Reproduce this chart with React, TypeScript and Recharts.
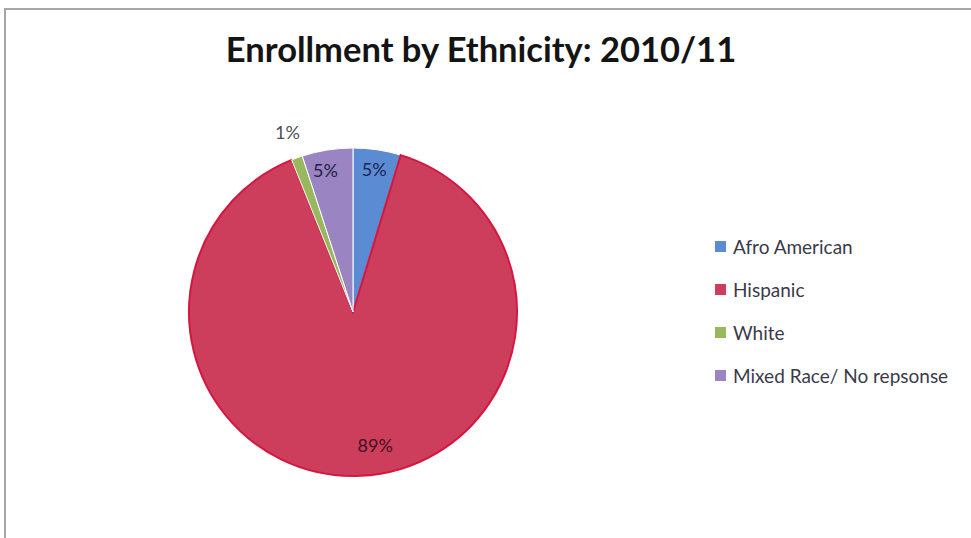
import { PieChart, Pie, Cell } from "recharts"

const groups = ["Afro American", "Hispanic", "White", "Mixed Race/ No repsonse"]
const shares = [4.7, 89.2, 1.1, 5.0]
const colors = ["#5a8bd3", "#cc3e5c", "#98b85e", "#9a85c2"]

const data = groups.map((name, i) => ({ name, value: shares[i] }))

// label placement per slice (fraction of radius, angle nudge)
const labelRadius = [0.88, 0.82, 1.17, 0.88]
const labelNudge = [0, 7, 0, 2]
const labelColor = ["#1a2650", "#44101f", "#4e4e5a", "#221e48"]

const RADIAN = Math.PI / 180
const font = "Lato, 'Open Sans', sans-serif"

const renderLabel = (props: any) => {
  const { cx, cy, midAngle, outerRadius, index, percent } = props
  const r = outerRadius * labelRadius[index]
  const a = (midAngle + labelNudge[index]) * RADIAN
  const x = cx + r * Math.cos(a)
  const y = cy - r * Math.sin(a)
  return (
    <text x={x} y={y} fill={labelColor[index]} fontSize={18} fontFamily={font} textAnchor="middle" dominantBaseline="central">
      {`${Math.round(percent * 100)}%`}
    </text>
  )
}

export default function App() {
  return (
    <div style={{ position: "absolute", left: 0, top: 0, width: 971, height: 538, background: "#fff", overflow: "hidden" }}>
      <div style={{ position: "absolute", left: 4, top: 8, width: 980, height: 540, borderLeft: "2px solid #a4a6aa", borderTop: "2px solid #a4a6aa" }} />
      <PieChart width={971} height={538} style={{ position: "absolute", left: 0, top: 0 }}>
        <text x={481} y={48} textAnchor="middle" dominantBaseline="central" fontFamily={font} fontWeight={700} fontSize={34.5} fill="#141414">
          Enrollment by Ethnicity: 2010/11
        </text>
        <Pie
          data={data}
          dataKey="value"
          nameKey="name"
          cx={348}
          cy={307}
          outerRadius={164}
          startAngle={90}
          endAngle={-270}
          stroke="#fff"
          strokeWidth={1}
          label={renderLabel}
          labelLine={false}
          isAnimationActive={false}
        >
          {data.map((entry, index) => (
            <Cell key={`cell-${index}`} fill={colors[index]} stroke={index === 1 ? "#d4173f" : "#ffffff"} strokeWidth={index === 1 ? 2 : 1} />
          ))}
        </Pie>
      </PieChart>
      <div style={{ position: "absolute", left: 715, top: 225, fontFamily: font, fontSize: 19, color: "#3a3a4a" }}>
        {groups.map((g, i) => (
          <div key={g} style={{ display: "flex", alignItems: "center", height: 43 }}>
            <span style={{ width: 11, height: 11, background: colors[i], marginRight: 7, display: "inline-block" }} />
            <span>{g}</span>
          </div>
        ))}
      </div>
    </div>
  )
}
